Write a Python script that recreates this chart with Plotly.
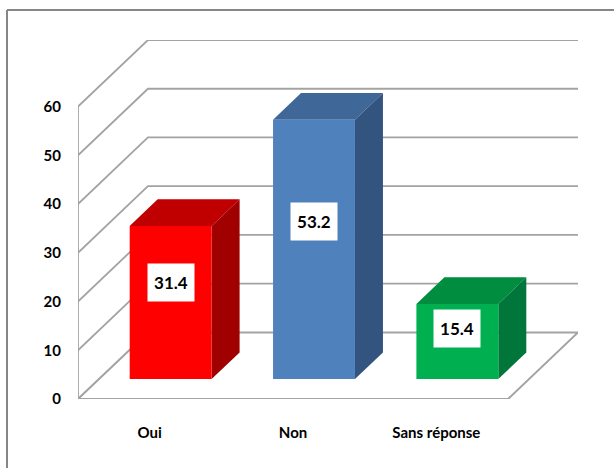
import plotly.graph_objects as go

categories = ["Oui", "Non", "Sans réponse"]
values = [31.4, 53.2, 15.4]
y_ticks = [0, 10, 20, 30, 40, 50, 60]

front_colors = ["#FF0000", "#4F81BD", "#00B050"]
top_colors = ["#C00000", "#3F6797", "#008D40"]
side_colors = ["#A00000", "#32547F", "#00763A"]

GRID = "#A3A3A3"
FONT = "Lato"
# oblique projection: what one full chart depth adds on each axis
DEPTH_X = 0.488
DEPTH_Y = 13.66
# bars stand between these two fractions of the depth, gap width 75 %
BAR_D0 = 0.3
BAR_D1 = 0.7
BAR_W = 1 / 1.75


def project(x, y, d):
    return x + d * DEPTH_X, y + d * DEPTH_Y


def polygon(points, color):
    """filled face from (x, y, depth) corners"""
    xs, ys = zip(*[project(*p) for p in points])
    return go.Scatter(x=list(xs) + [xs[0]], y=list(ys) + [ys[0]], mode="lines",
                      fill="toself", fillcolor=color, line=dict(width=0, color=color),
                      hoverinfo="skip", showlegend=False, cliponaxis=False)


def line(points, width=1.8):
    xs, ys = zip(*[project(*p) for p in points])
    return go.Scatter(x=xs, y=ys, mode="lines", line=dict(color=GRID, width=width),
                      hoverinfo="skip", showlegend=False, cliponaxis=False)


n = len(categories)
fig = go.Figure()

# walls and floor
for t in y_ticks[1:]:
    fig.add_trace(line([(0, t, 0), (0, t, 1), (n, t, 1)]))
fig.add_trace(line([(0, 0, 0), (0, y_ticks[-1], 0)]))
fig.add_trace(line([(0, 0, 0), (0, 0, 1), (n, 0, 1), (n, 0, 0), (0, 0, 0)], width=2))

# bars
for i, v in enumerate(values):
    x0 = i + 0.5 - BAR_W / 2
    x1 = i + 0.5 + BAR_W / 2
    fig.add_trace(polygon([(x0, v, BAR_D0), (x1, v, BAR_D0), (x1, v, BAR_D1), (x0, v, BAR_D1)], top_colors[i]))
    fig.add_trace(polygon([(x1, 0, BAR_D0), (x1, 0, BAR_D1), (x1, v, BAR_D1), (x1, v, BAR_D0)], side_colors[i]))
    fig.add_trace(polygon([(x0, 0, BAR_D0), (x1, 0, BAR_D0), (x1, v, BAR_D0), (x0, v, BAR_D0)], front_colors[i]))
    lx, ly = project(i + 0.5, v * 0.58 + 1.5, BAR_D0)
    fig.add_annotation(x=lx, y=ly, text="<b>%.1f</b>" % v, showarrow=False, bgcolor="white",
                       width=44, height=35, font=dict(family=FONT, size=17, color="black"))

fig.update_layout(
    width=614, height=468, autosize=False,
    margin=dict(l=78, r=36, t=40, b=69),
    paper_bgcolor="white", plot_bgcolor="white",
    showlegend=False,
    # chart frame, only top and left are visible in the original
    shapes=[
        dict(type="line", xref="paper", yref="paper", x0=-71 / 500, x1=536 / 500, y0=389 / 359, y1=389 / 359,
             line=dict(color="#868686", width=2)),
        dict(type="line", xref="paper", yref="paper", x0=-71 / 500, x1=-71 / 500, y0=389 / 359, y1=-69 / 359,
             line=dict(color="#868686", width=2)),
    ],
)
fig.update_xaxes(range=[0, n + DEPTH_X], tickvals=[i + 0.5 for i in range(n)], ticktext=categories,
                 showgrid=False, zeroline=False, showline=False, ticks="outside", ticklen=20,
                 tickcolor="rgba(0,0,0,0)", tickfont=dict(family=FONT, size=15, color="black", weight=700))
fig.update_yaxes(range=[0, y_ticks[-1] + DEPTH_Y], tickvals=y_ticks,
                 showgrid=False, zeroline=False, showline=False, ticks="outside", ticklen=13,
                 tickcolor="rgba(0,0,0,0)", tickfont=dict(family=FONT, size=15, color="black", weight=700))

# the page's default body margin would push the whole chart 8 px off
fig.write_html("out.html", config=dict(displayModeBar=False),
               post_script="document.body.style.margin = '0';")
